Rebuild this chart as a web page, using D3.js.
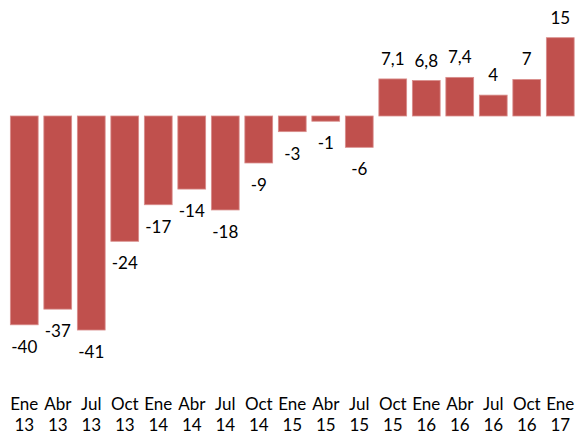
<!DOCTYPE html>
<html>
<head>
<meta charset="utf-8">
<script src="https://cdn.jsdelivr.net/npm/d3@7"></script>
<style>
  html, body { margin: 0; padding: 0; background: #fff; }
  svg { display: block; font-family: Lato, "Liberation Sans", sans-serif; }
</style>
</head>
<body>
<svg id="chart"></svg>
<script>
const months = ['Ene', 'Abr', 'Jul', 'Oct', 'Ene', 'Abr', 'Jul', 'Oct', 'Ene', 'Abr', 'Jul', 'Oct', 'Ene', 'Abr', 'Jul', 'Oct', 'Ene'];
const years = ['13', '13', '13', '13', '14', '14', '14', '14', '15', '15', '15', '15', '16', '16', '16', '16', '17'];
const values = [-40, -37, -41, -24, -17, -14, -18, -9, -3, -1, -6, 7.1, 6.8, 7.4, 4, 7, 15];
const valueLabels = ['-40', '-37', '-41', '-24', '-17', '-14', '-18', '-9', '-3', '-1', '-6', '7,1', '6,8', '7,4', '4', '7', '15'];

const width = 575, height = 436;
const data = values.map((v, i) => ({ key: i, month: months[i], year: years[i], value: v, label: valueLabels[i] }));

const svg = d3.select('#chart').attr('width', width).attr('height', height);

const x = d3.scaleBand()
  .domain(data.map(d => d.key))
  .range([7.5, 577])
  .paddingInner(0.17)
  .paddingOuter(0.085);

const y = d3.scaleLinear()
  .domain([-45, 20])
  .range([116 + 45 * 5.22, 116 - 20 * 5.22]);

// bars
svg.selectAll('rect.bar')
  .data(data)
  .enter()
  .append('rect')
  .attr('class', 'bar')
  .attr('x', d => x(d.key))
  .attr('width', x.bandwidth())
  .attr('y', d => y(Math.max(0, d.value)))
  .attr('height', d => Math.abs(y(d.value) - y(0)))
  .attr('fill', '#C0504D')
  .attr('stroke', '#d98e8c')
  .attr('stroke-width', 0.8);

// value labels
svg.selectAll('text.val')
  .data(data)
  .enter()
  .append('text')
  .attr('class', 'val')
  .attr('x', d => x(d.key) + x.bandwidth() / 2)
  .attr('y', d => d.value >= 0 ? y(d.value) - 14 : y(d.value) + 28)
  .attr('text-anchor', 'middle')
  .attr('font-size', 17)
  .attr('fill', '#000')
  .text(d => d.label);

// category axis (two-line labels, no line)
const ticks = svg.append('g').selectAll('text.cat')
  .data(data)
  .enter()
  .append('text')
  .attr('class', 'cat')
  .attr('x', d => x(d.key) + x.bandwidth() / 2)
  .attr('y', 410)
  .attr('text-anchor', 'middle')
  .attr('font-size', 17)
  .attr('fill', '#000');

ticks.append('tspan').text(d => d.month);
ticks.append('tspan')
  .attr('x', d => x(d.key) + x.bandwidth() / 2)
  .attr('dy', 21)
  .text(d => d.year);
</script>
</body>
</html>
